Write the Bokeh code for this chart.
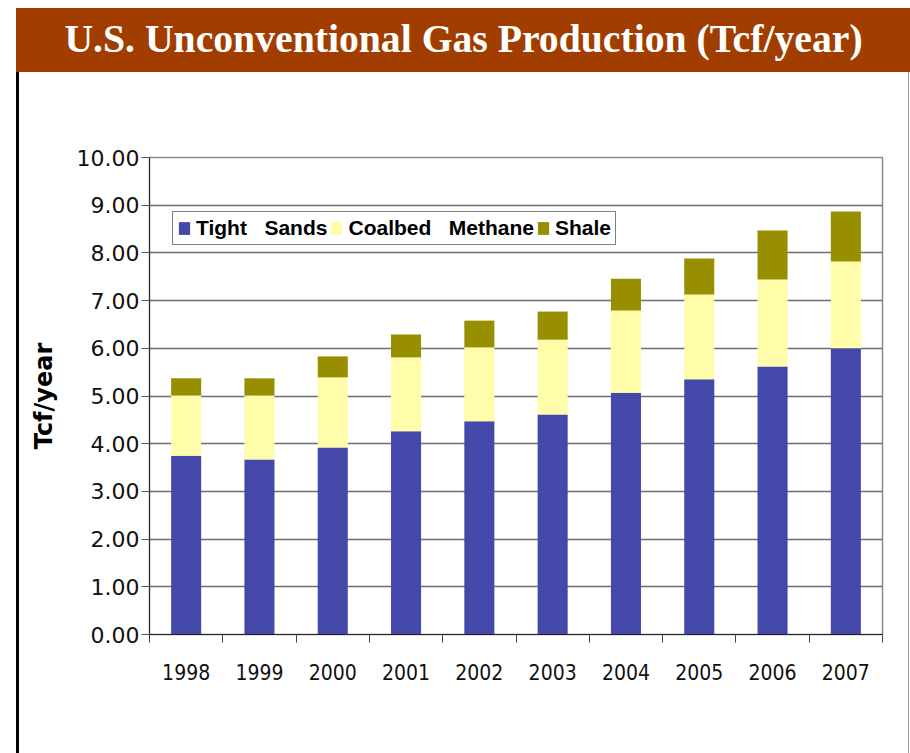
from bokeh.plotting import figure
from bokeh.models import (ColumnDataSource, Range1d, LinearAxis, FixedTicker,
                          NumeralTickFormatter)
from bokeh.embed import file_html
from bokeh.resources import INLINE

years = ["1998", "1999", "2000", "2001", "2002", "2003", "2004", "2005", "2006", "2007"]
tight_sands = [3.75, 3.67, 3.92, 4.26, 4.47, 4.61, 5.07, 5.35, 5.62, 6.00]
coalbed_methane = [1.26, 1.34, 1.47, 1.55, 1.55, 1.57, 1.72, 1.78, 1.82, 1.82]
shale = [0.36, 0.36, 0.44, 0.48, 0.56, 0.59, 0.67, 0.75, 1.03, 1.05]
series_labels = ["Tight   Sands", "Coalbed   Methane", "Shale"]
y_ticks = [0, 1, 2, 3, 4, 5, 6, 7, 8, 9, 10]

TITLE = "U.S. Unconventional Gas Production (Tcf/year)"
colors = ["#4449A9", "#FFFCAA", "#978F00"]
BAR_BROWN = "#A23D00"

xpos = [i + 0.5 for i in range(len(years))]
src = ColumnDataSource(dict(x=xpos, tight=tight_sands, coal=coalbed_methane, shale=shale))

page_styles = {
    "background-image": ("linear-gradient(%s,%s), linear-gradient(#000,#000), "
                         "linear-gradient(#999,#999)") % (BAR_BROWN, BAR_BROWN),
    "background-size": "894px 64px, 3px 681px, 1px 681px",
    "background-position": "16px 8px, 16px 72px, 908px 72px",
    "background-repeat": "no-repeat",
    "background-color": "white",
}

p = figure(width=910, height=753, x_range=Range1d(0, len(years)), y_range=Range1d(0, 10),
           output_backend="svg", toolbar_location=None, x_axis_location=None,
           min_border_left=149, min_border_right=28, min_border_top=157, min_border_bottom=119,
           outline_line_color="#8a8a8a", outline_line_width=1.5,
           border_fill_color=None, background_fill_color="white",
           styles=page_styles)

# banner title: a single-label axis above the frame on a pixel-based helper range
p.extra_x_ranges = {"page": Range1d(149, 882)}
title_axis = LinearAxis(x_range_name="page", ticker=FixedTicker(ticks=[463]),
                        major_label_overrides={463: TITLE},
                        major_label_standoff=97, major_tick_out=0, major_tick_in=0,
                        minor_tick_line_color=None, axis_line_color=None,
                        major_tick_line_color=None,
                        major_label_text_color="white",
                        major_label_text_font="Liberation Serif",
                        major_label_text_font_style="bold",
                        major_label_text_font_size="39.7px")
p.add_layout(title_axis, "above")

p.vbar_stack(["tight", "coal", "shale"], x="x", width=0.41, color=colors,
             line_color=None, source=src, legend_label=series_labels)

p.xgrid.visible = False
p.ygrid.ticker = FixedTicker(ticks=y_ticks)
p.ygrid.grid_line_color = "#6e6e6e"
p.ygrid.grid_line_width = 1.5

ya = p.yaxis[0]
ya.ticker = FixedTicker(ticks=y_ticks)
ya.formatter = NumeralTickFormatter(format="0.00")
ya.major_label_text_font = "DejaVu Sans"
ya.major_label_text_font_size = "22px"
ya.major_label_text_color = "#111"
ya.major_label_standoff = 2
ya.major_tick_out = 8
ya.major_tick_in = 0
ya.minor_tick_line_color = None
ya.axis_line_color = "#2b2b10"
ya.major_tick_line_color = "#5a5a40"
ya.axis_label = "Tcf/year"
ya.axis_label_text_font = "DejaVu Sans"
ya.axis_label_text_font_style = "bold"
ya.axis_label_text_font_size = "24px"
ya.axis_label_text_color = "black"
ya.axis_label_standoff = 16

xa1 = LinearAxis(ticker=FixedTicker(ticks=list(range(len(years) + 1))),
                 major_label_overrides={i: "" for i in range(len(years) + 1)},
                 major_label_text_font_size="0px", major_label_standoff=0,
                 major_tick_out=8, major_tick_in=0, minor_tick_line_color=None,
                 axis_line_color="#222", major_tick_line_color="#444")
p.add_layout(xa1, "below")

xa2 = LinearAxis(ticker=FixedTicker(ticks=xpos),
                 major_label_overrides={x: y for x, y in zip(xpos, years)},
                 major_label_standoff=21, major_tick_out=0, major_tick_in=0,
                 minor_tick_line_color=None, axis_line_color=None,
                 major_label_text_font="'DejaVu Sans Condensed', 'DejaVu Sans', sans-serif",
                 major_label_text_font_size="21px", major_label_text_color="#111")
p.add_layout(xa2, "below")

lg = p.legend[0]
lg.orientation = "horizontal"
lg.location = (23, 389)
lg.border_line_color = "black"
lg.border_line_width = 1
lg.background_fill_color = "white"
lg.background_fill_alpha = 1
lg.label_text_font = "Liberation Sans"
lg.label_text_font_style = "bold"
lg.label_text_font_size = "21px"
lg.label_text_color = "black"
lg.glyph_width = 14
lg.glyph_height = 16
lg.label_height = 16
lg.label_standoff = 5
lg.spacing = 2
lg.padding = 4
lg.margin = 0

open("out.html", "w").write(file_html(p, INLINE))
